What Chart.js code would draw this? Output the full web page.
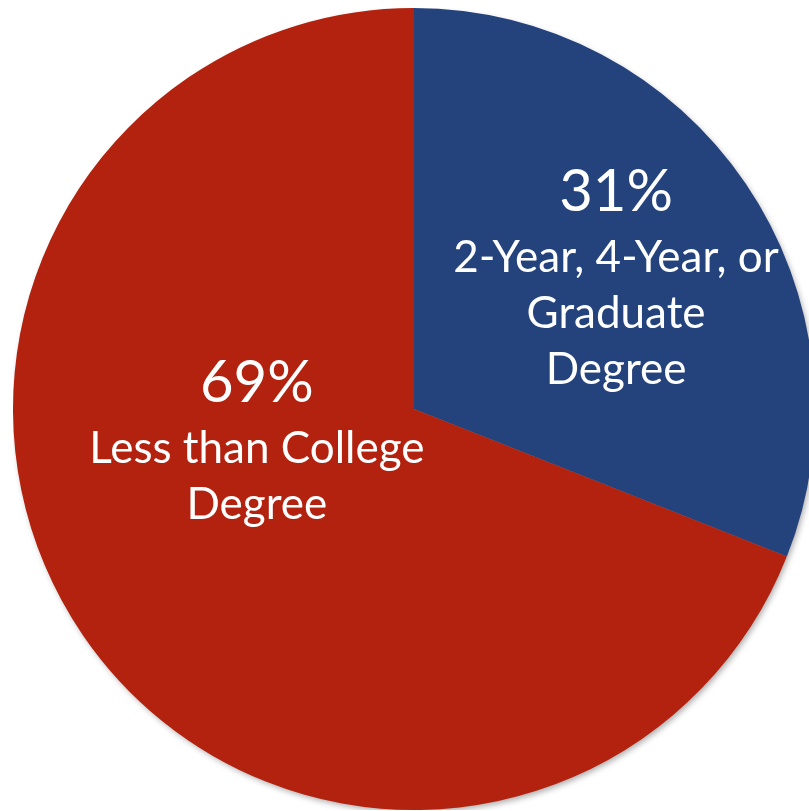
<!DOCTYPE html>
<html>
<head>
<meta charset="utf-8">
<script src="https://cdn.jsdelivr.net/npm/chart.js@4/dist/chart.umd.min.js"></script>
<style>
  html, body { margin: 0; padding: 0; background: #fff; overflow: hidden; width: 809px; height: 811px; }
  #wrap { position: absolute; left: 13px; top: 8px; width: 802px; height: 802px; }
</style>
</head>
<body>
<div id="wrap"><canvas id="myChart" width="802" height="802"></canvas></div>
<script>
// chart data
var categories = ['2-Year, 4-Year, or Graduate Degree', 'Less than College Degree'];
var values = [31, 69];
var colors = ['#24427c', '#b2220f'];
// label lines drawn inside each slice
var labelLines = [
    ['2-Year, 4-Year, or', 'Graduate', 'Degree'],
    ['Less than College', 'Degree']
];
// baseline of the percentage line, relative to pie centre (fraction of radius)
var labelSpots = [
    { x: 0.504, y: -0.494 },
    { x: -0.392, y: -0.017 }
];

document.addEventListener('DOMContentLoaded', function () {
    var fontFamily = 'Lato, "Open Sans", sans-serif';

    var shadowPlugin = {
        id: 'pieShadow',
        beforeDatasetsDraw: function (chart) {
            var arc = chart.getDatasetMeta(0).data[0];
            var ctx = chart.ctx;
            ctx.save();
            ctx.shadowColor = 'rgba(0,0,0,0.35)';
            ctx.shadowBlur = 6;
            ctx.shadowOffsetX = 2;
            ctx.shadowOffsetY = 3;
            ctx.fillStyle = '#888';
            ctx.beginPath();
            ctx.arc(arc.x, arc.y, arc.outerRadius - 1, 0, Math.PI * 2);
            ctx.fill();
            ctx.restore();
        }
    };

    var labelPlugin = {
        id: 'sliceLabels',
        afterDatasetsDraw: function (chart) {
            var meta = chart.getDatasetMeta(0);
            var ctx = chart.ctx;
            ctx.save();
            ctx.fillStyle = '#ffffff';
            ctx.textAlign = 'center';
            ctx.textBaseline = 'alphabetic';
            meta.data.forEach(function (arc, i) {
                var r = arc.outerRadius;
                var cx = arc.x + labelSpots[i].x * r;
                var base = arc.y + labelSpots[i].y * r;
                ctx.font = '58px ' + fontFamily;
                ctx.fillText(values[i] + '%', cx, base);
                ctx.font = '44px ' + fontFamily;
                labelLines[i].forEach(function (t, j) {
                    ctx.fillText(t, cx, base + 61 + j * 56);
                });
            });
            ctx.restore();
        }
    };

    var ctx = document.getElementById('myChart').getContext('2d');
    var myChart = new Chart(ctx, {
        type: 'pie',
        data: {
            labels: categories,
            datasets: [{
                data: values,
                backgroundColor: colors,
                borderWidth: 0
            }]
        },
        options: {
            responsive: false,
            animation: false,
            layout: { padding: 0 },
            plugins: {
                legend: { display: false },
                tooltip: { enabled: false }
            }
        },
        plugins: [shadowPlugin, labelPlugin]
    });
});
</script>
</body>
</html>
